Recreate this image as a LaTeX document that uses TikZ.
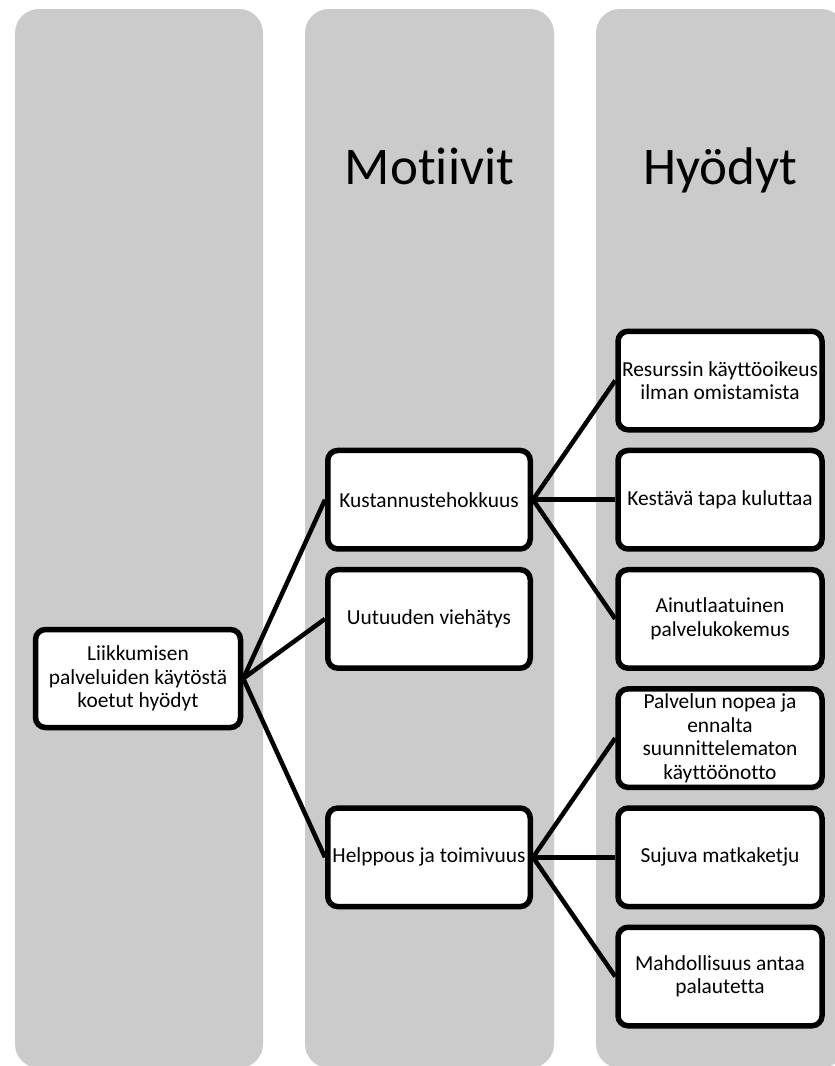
\documentclass[tikz,border=0pt]{standalone}
\usepackage{fontspec}
\setmainfont{Carlito}[RawFeature=-liga]
\definecolor{lanebg}{RGB}{203,203,203}
\begin{document}
\begin{tikzpicture}[x=1pt,y=-1pt,
  lane/.style={fill=lanebg, rounded corners=24pt},
  item/.style={draw=black, line width=5.5pt, fill=white, rounded corners=10pt,
    align=center, inner sep=2pt, minimum width=204pt, minimum height=98.5pt,
    font=\fontsize{21.4}{23.5}\selectfont},
  link/.style={line width=4.5pt},
  header/.style={font=\fontsize{53}{60}\selectfont, anchor=base, inner sep=0pt}]
\useasboundingbox (0,0) rectangle (835,1066);
\clip (0,0) rectangle (835,1066);

% background lanes
\fill[lane] (15,9) rectangle (263,1068);
\fill[lane] (305,9) rectangle (554,1068);
\fill[lane] (596,9) rectangle (845,1068);

% lane headings
\node[header] (hmot) at (429.5,184) {Motiivit};
\node[header] (hhyo) at (720.5,184) {Hyödyt};

% root
\node[item, minimum width=205pt, minimum height=98pt] (root) at (138,678.5)
  {Liikkumisen\\palveluiden käytöstä\\koetut hyödyt};

% motives
\node[item, minimum width=202.5pt] (m1) at (429,499.7) {Kustannustehokkuus};
\node[item, minimum width=202.5pt] (m2) at (429,618.9) {Uutuuden viehätys};
\node[item, minimum width=202.5pt] (m3) at (429,857.3) {Helppous ja toimivuus};

% benefits
\node[item] (b1) at (720,380.5) {Resurssin käyttöoikeus\\ilman omistamista};
\node[item] (b2) at (720,499.7) {Kestävä tapa kuluttaa};
\node[item] (b3) at (720,618.9) {Ainutlaatuinen\\palvelukokemus};
\node[item] (b4) at (720,738.1) {Palvelun nopea ja\\ennalta\\suunnittelematon\\käyttöönotto};
\node[item] (b5) at (720,857.3) {Sujuva matkaketju};
\node[item] (b6) at (720,976.5) {Mahdollisuus antaa\\palautetta};

% connectors
\draw[link] (root.east) -- (m1.west);
\draw[link] (root.east) -- (m2.west);
\draw[link] (root.east) -- (m3.west);
\draw[link] (m1.east) -- (b1.west);
\draw[link] (m1.east) -- (b2.west);
\draw[link] (m1.east) -- (b3.west);
\draw[link] (m3.east) -- (b4.west);
\draw[link] (m3.east) -- (b5.west);
\draw[link] (m3.east) -- (b6.west);
\end{tikzpicture}
\end{document}
